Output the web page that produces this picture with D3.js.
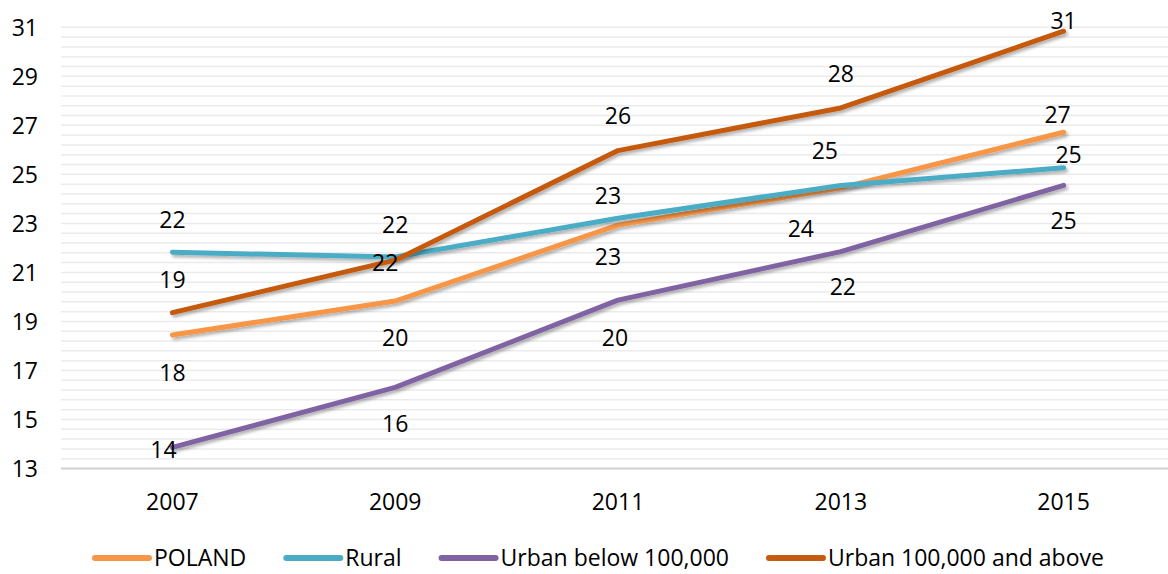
<!DOCTYPE html>
<html>
<head>
<meta charset="utf-8">
<script src="https://cdn.jsdelivr.net/npm/d3@7"></script>
<style>
  body { margin: 0; background: #fff; }
  svg text { font-family: "Open Sans", "Noto Sans", sans-serif; fill: #000; }
</style>
</head>
<body>
<div id="chart"></div>
<script>
// Years on the x axis
const years = ["2007", "2009", "2011", "2013", "2015"];

// Series values
const poland     = [18.45, 19.83, 22.93, 24.45, 26.72];
const rural      = [21.82, 21.63, 23.21, 24.55, 25.27];
const urbanBelow = [13.86, 16.31, 19.87, 21.85, 24.55];
const urbanAbove = [19.36, 21.5, 25.97, 27.71, 30.84];

// Y axis tick labels
const yTicks = [13, 15, 17, 19, 21, 23, 25, 27, 29, 31];

const series = [
    { name: "POLAND", values: poland, color: "#F79646" },
    { name: "Rural", values: rural, color: "#4BACC6" },
    { name: "Urban below 100,000", values: urbanBelow, color: "#8064A2" },
    { name: "Urban 100,000 and above", values: urbanAbove, color: "#C55A11" }
];

// where each data label sits relative to its point [dx, dy]
const labelNudge = {
    "POLAND": [[0, 38], [0, 37], [-10, 32], [-40, 41], [-6, -17]],
    "Rural": [[0, -32], [0, -32], [-10, -22], [-16, -34], [5, -13]],
    "Urban below 100,000": [[-9, 3], [0, 37], [-3, 38], [2, 35], [0, 36]],
    "Urban 100,000 and above": [[0, -33], [-10, 3], [0, -35], [0, -34], [0, -10]]
};

const width = 1168, height = 574;

const svg = d3.select("#chart").append("svg")
    .attr("width", width)
    .attr("height", height);

const defs = svg.append("defs");
defs.append("filter")
    .attr("id", "shadow")
    .attr("x", "-5%").attr("y", "-20%")
    .attr("width", "110%").attr("height", "140%")
    .append("feDropShadow")
    .attr("dx", 2).attr("dy", 2.5)
    .attr("stdDeviation", 1.5)
    .attr("flood-color", "#000")
    .attr("flood-opacity", 0.3);

const x = d3.scaleBand().domain(years).range([61, 1175]);
const y = d3.scaleLinear().domain([13, 31]).range([468.5, 27.3]);
const cx = d => x(d) + x.bandwidth() / 2;

// minor gridlines every 0.4
const gridVals = d3.range(0, 46).map(i => 13 + i * 0.4);
svg.append("g")
    .selectAll("line")
    .data(gridVals.slice(1))
    .enter()
    .append("line")
    .attr("x1", 61).attr("x2", width)
    .attr("y1", d => y(d)).attr("y2", d => y(d))
    .attr("stroke", "#ebebeb")
    .attr("stroke-width", 1.5);

// bottom axis line
svg.append("line")
    .attr("x1", 61).attr("x2", width)
    .attr("y1", y(13)).attr("y2", y(13))
    .attr("stroke", "#d0d0d0")
    .attr("stroke-width", 2);

// y axis labels
const yAxis = svg.append("g")
    .attr("transform", "translate(38,0)")
    .call(d3.axisLeft(y).tickValues(yTicks).tickSize(0).tickPadding(0));
yAxis.select(".domain").remove();
yAxis.selectAll("text")
    .style("font-size", "23px")
    .attr("dy", "0.35em");

// x axis labels
const xAxis = svg.append("g")
    .attr("transform", "translate(0,502)")
    .call(d3.axisBottom(x).tickSize(0).tickPadding(0));
xAxis.select(".domain").remove();
xAxis.selectAll("text")
    .style("font-size", "23px")
    .attr("dy", "0.35em");

const line = d3.line()
    .x((d, i) => cx(years[i]))
    .y(d => y(d));

svg.append("g")
    .selectAll("path")
    .data(series)
    .enter()
    .append("path")
    .attr("d", d => line(d.values))
    .attr("fill", "none")
    .attr("stroke", d => d.color)
    .attr("stroke-width", 5)
    .attr("stroke-linecap", "round")
    .attr("stroke-linejoin", "round")
    .attr("filter", "url(#shadow)");

// data labels
series.forEach(s => {
    svg.append("g")
        .selectAll("text")
        .data(s.values)
        .enter()
        .append("text")
        .attr("x", (d, i) => cx(years[i]) + labelNudge[s.name][i][0])
        .attr("y", (d, i) => y(d) + labelNudge[s.name][i][1])
        .attr("dy", "0.35em")
        .attr("text-anchor", "middle")
        .style("font-size", "23px")
        .text(d => Math.round(d));
});

// legend
const legend = svg.append("g").attr("transform", "translate(0,558)");
let lx = 95;
series.forEach(s => {
    const g = legend.append("g").attr("transform", `translate(${lx},0)`);
    g.append("line")
        .attr("x1", 0).attr("x2", 54)
        .attr("y1", 0).attr("y2", 0)
        .attr("stroke", s.color)
        .attr("stroke-width", 6)
        .attr("stroke-linecap", "round");
    const t = g.append("text")
        .attr("x", 59)
        .attr("dy", "0.35em")
        .style("font-size", "23px")
        .text(s.name);
    lx += 59 + t.node().getComputedTextLength() + 40;
});
</script>
</body>
</html>
